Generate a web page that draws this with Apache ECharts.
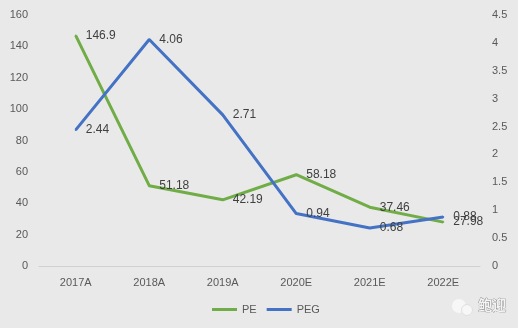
<!DOCTYPE html>
<html>
<head>
<meta charset="utf-8">
<script src="https://cdn.jsdelivr.net/npm/echarts@6/dist/echarts.min.js"></script>
<style>
  html, body { margin: 0; padding: 0; background: #e9e9e9; }
  #chart { width: 518px; height: 328px; }
</style>
</head>
<body>
<div id="chart"></div>
<script>
// Categories and values
var years = ['2017A', '2018A', '2019A', '2020E', '2021E', '2022E'];
var peValues = [146.9, 51.18, 42.19, 58.18, 37.46, 27.98];
var pegValues = [2.44, 4.06, 2.71, 0.94, 0.68, 0.88];

var FONT = 'Liberation Sans, Arial, sans-serif';

var labelStyle = {
  show: true,
  position: 'right',
  distance: 9,
  color: '#404040',
  fontSize: 12,
  fontFamily: FONT
};

var chart = echarts.init(document.getElementById('chart'));
chart.setOption({
  backgroundColor: '#e9e9e9',
  animation: false,
  grid: { left: 39, right: 38, top: 15, bottom: 62 },
  legend: {
    bottom: 8,
    left: 207,
    itemWidth: 25,
    itemHeight: 3,
    itemGap: 10,
    icon: 'rect',
    textStyle: { color: '#595959', fontSize: 11, fontFamily: FONT },
    data: ['PE', 'PEG']
  },
  xAxis: {
    type: 'category',
    data: years,
    boundaryGap: true,
    axisLine: { lineStyle: { color: '#d0d0d0' } },
    axisTick: { show: false },
    axisLabel: { color: '#595959', fontSize: 11, margin: 11, fontFamily: FONT }
  },
  yAxis: [
    {
      type: 'value', min: 0, max: 160, interval: 20,
      splitLine: { show: false },
      axisLine: { show: false }, axisTick: { show: false },
      axisLabel: { color: '#595959', fontSize: 11, margin: 11, fontFamily: FONT }
    },
    {
      type: 'value', min: 0, max: 4.5, interval: 0.5,
      splitLine: { show: false },
      axisLine: { show: false }, axisTick: { show: false },
      axisLabel: { color: '#595959', fontSize: 11, margin: 12, align: 'left', fontFamily: FONT }
    }
  ],
  series: [
    {
      name: 'PE', type: 'line', yAxisIndex: 0, data: peValues,
      symbol: 'circle', symbolSize: 2, showSymbol: true, color: '#70ad47',
      lineStyle: { width: 3, color: '#70ad47' },
      label: labelStyle
    },
    {
      name: 'PEG', type: 'line', yAxisIndex: 1, data: pegValues,
      symbol: 'circle', symbolSize: 2, showSymbol: true, color: '#4472c4',
      lineStyle: { width: 3, color: '#4472c4' },
      label: labelStyle
    }
  ],
  graphic: [
    { type: 'circle', shape: { cx: 459, cy: 306, r: 7 }, style: { fill: '#f7f7f7' } },
    { type: 'circle', shape: { cx: 467, cy: 310, r: 5.5 }, style: { fill: '#f7f7f7', stroke: '#e0e0e0' } },
    {
      type: 'text', left: 478, top: 297,
      style: { text: '鲍迎', fill: '#f4f4f4', stroke: '#808080', lineWidth: 0.7, font: 'bold 14px "Noto Sans CJK SC"' }
    }
  ]
});
</script>
</body>
</html>
